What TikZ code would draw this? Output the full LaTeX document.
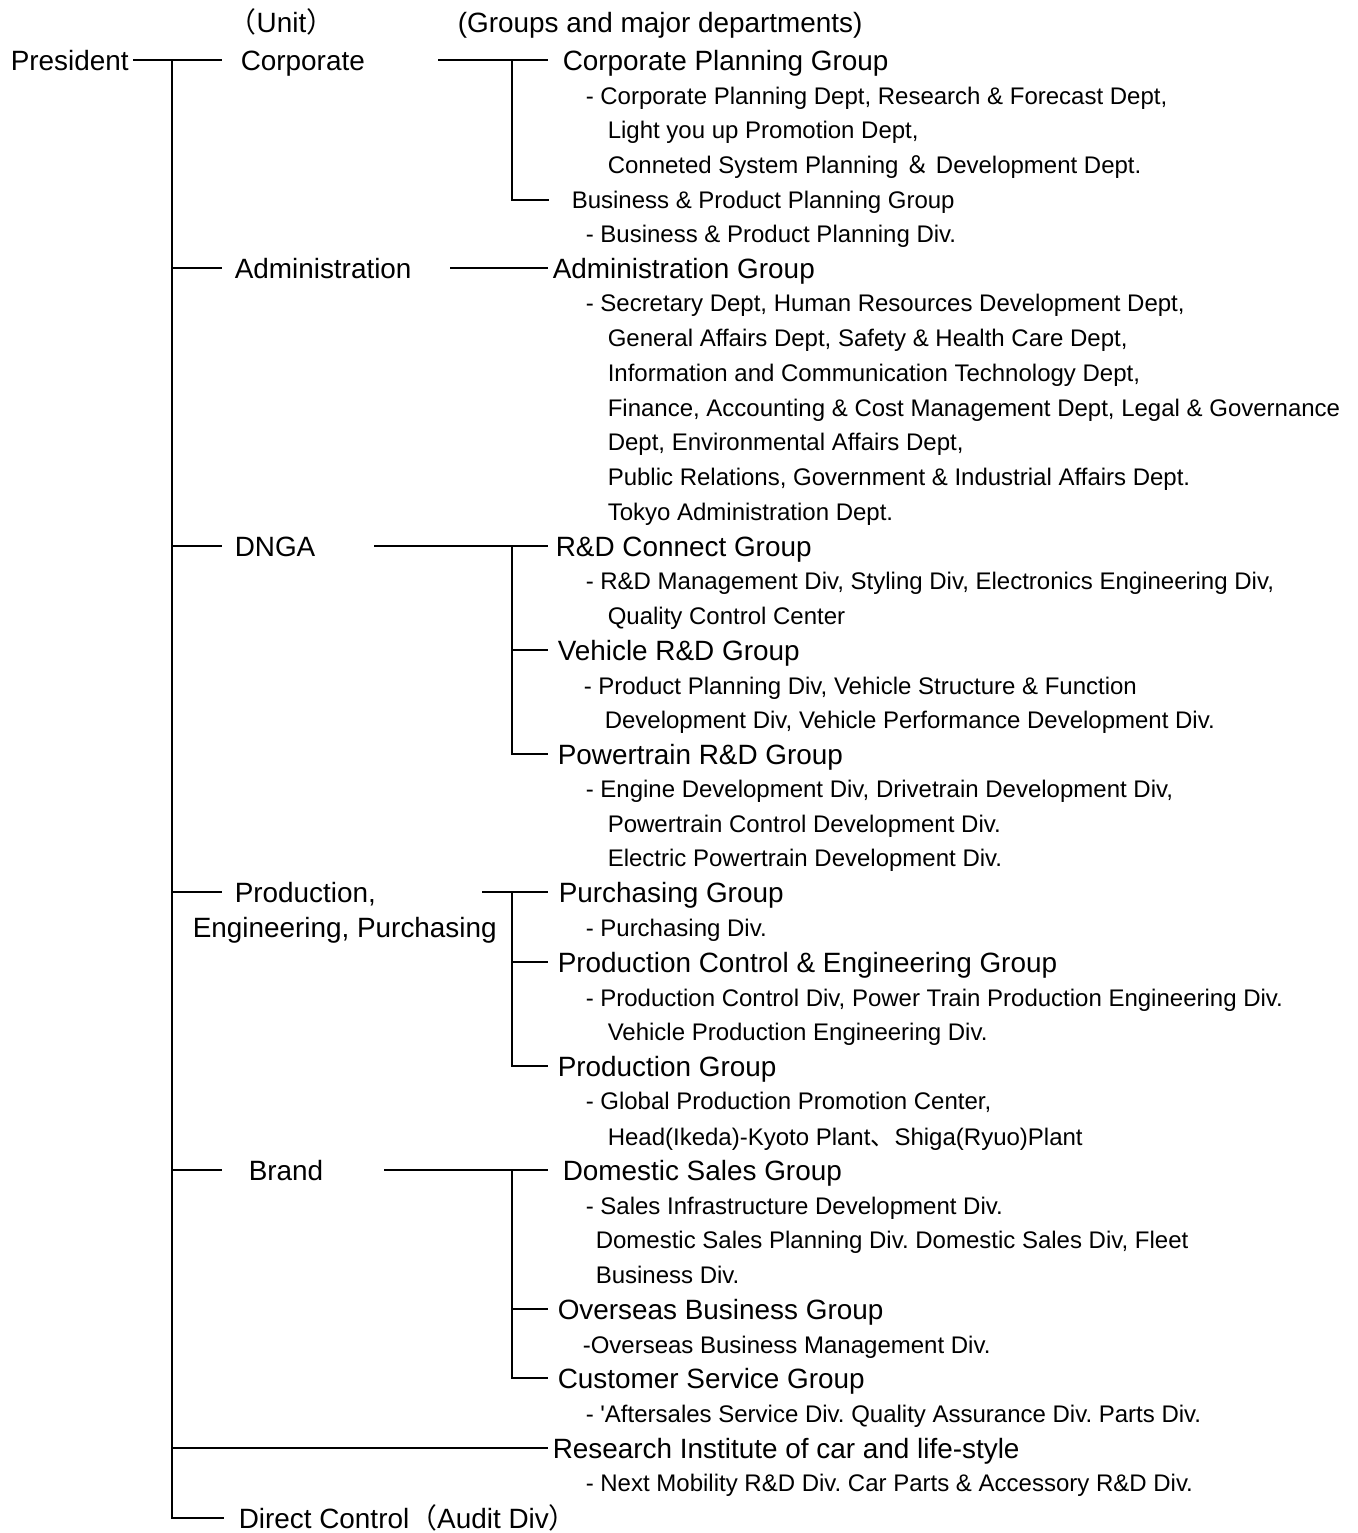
\documentclass[tikz,border=0pt]{standalone}
\usepackage{fontspec}
\setmainfont{Liberation Sans}
\newfontfamily\cjkfont{Noto Sans CJK JP}
\frenchspacing
\begin{document}
\begin{tikzpicture}[x=1pt,y=-1pt,line width=1.5pt]
	\def \trunk{172}
	\def \fork{512}
	\def \rowcorp{60}
	\def \rowadm{268}
	\def \rowdnga{546}
	\def \rowprod{892}
	\def \rowbrand{1170}
	\def \rowlab{1448}
	\def \rowaudit{1518}
	\tikzstyle{unit}=[anchor=west,inner sep=0pt,text height=25.7pt,text depth=5.6pt,font=\fontsize{27.9}{33}\selectfont]
	\tikzstyle{grp}=[unit]
	\tikzstyle{dept}=[anchor=west,inner sep=0pt,text height=22.1pt,text depth=4.8pt,font=\fontsize{24}{29}\selectfont]
	\useasboundingbox (0,0) rectangle (1357,1533);

	% headings
	\node[unit]	(h-unit)	at (228,22)		{{\cjkfont（}Unit{\cjkfont）}};
	\node[unit]	(h-grp)		at (457,22)		{(Groups and major departments)};

	% president and units
	\node[unit]	(pres)		at (10,\rowcorp)	{President};
	\node[unit]	(u-corp)	at (240,\rowcorp)	{Corporate};
	\node[unit]	(u-adm)		at (234,\rowadm)	{Administration};
	\node[unit]	(u-dnga)	at (234,\rowdnga)	{DNGA};
	\node[unit]	(u-prod)	at (234,\rowprod)	{Production,};
	\node[unit]	(u-prod2)	at (192,927)		{Engineering, Purchasing};
	\node[unit]	(u-brand)	at (248,\rowbrand)	{Brand};
	\node[unit]	(u-audit)	at (238,\rowaudit)	{Direct Control{\cjkfont（}Audit Div{\cjkfont）}};

	% groups
	\node[grp]	(g-cpg)		at (562,\rowcorp)	{Corporate Planning Group};
	\node[dept]	(g-bpg)		at (571,200)		{Business \& Product Planning Group};
	\node[grp]	(g-adm)		at (552,\rowadm)	{Administration Group};
	\node[grp]	(g-rdc)		at (555,\rowdnga)	{R\&D Connect Group};
	\node[grp]	(g-veh)		at (557,650)		{Vehicle R\&D Group};
	\node[grp]	(g-pwt)		at (557,754)		{Powertrain R\&D Group};
	\node[grp]	(g-pur)		at (558,\rowprod)	{Purchasing Group};
	\node[grp]	(g-pce)		at (557,962)		{Production Control \& Engineering Group};
	\node[grp]	(g-prd)		at (557,1066)		{Production Group};
	\node[grp]	(g-dom)		at (562,\rowbrand)	{Domestic Sales Group};
	\node[grp]	(g-ovs)		at (557,1309)		{Overseas Business Group};
	\node[grp]	(g-cus)		at (557,1378)		{Customer Service Group};
	\node[grp]	(g-lab)		at (552,\rowlab)	{Research Institute of car and life-style};

	% departments
	\node[dept]	(d-cpg1)	at (585,96)		{- Corporate Planning Dept, Research \& Forecast Dept,};
	\node[dept]	(d-cpg2)	at (607,130)		{Light you up Promotion Dept,};
	\node[dept]	(d-cpg3)	at (607,165)		{Conneted System Planning {\cjkfont ＆} Development Dept.};
	\node[dept]	(d-bpg1)	at (585,234)		{- Business \& Product Planning Div.};
	\node[dept]	(d-adm1)	at (585,303)		{- Secretary Dept, Human Resources Development Dept,};
	\node[dept]	(d-adm2)	at (607,338)		{General Affairs Dept, Safety \& Health Care Dept,};
	\node[dept]	(d-adm3)	at (607,373)		{Information and Communication Technology Dept,};
	\node[dept]	(d-adm4)	at (607,408)		{Finance, Accounting \& Cost Management Dept, Legal \& Governance};
	\node[dept]	(d-adm5)	at (607,442)		{Dept, Environmental Affairs Dept,};
	\node[dept]	(d-adm6)	at (607,477)		{Public Relations, Government \& Industrial Affairs Dept.};
	\node[dept]	(d-adm7)	at (607,512)		{Tokyo Administration Dept.};
	\node[dept]	(d-rdc1)	at (585,581)		{- R\&D Management Div, Styling Div, Electronics Engineering Div,};
	\node[dept]	(d-rdc2)	at (607,616)		{Quality Control Center};
	\node[dept]	(d-veh1)	at (583,686)		{- Product Planning Div, Vehicle Structure \& Function};
	\node[dept]	(d-veh2)	at (604,720)		{Development Div, Vehicle Performance Development Div.};
	\node[dept]	(d-pwt1)	at (585,789)		{- Engine Development Div, Drivetrain Development Div,};
	\node[dept]	(d-pwt2)	at (607,824)		{Powertrain Control Development Div.};
	\node[dept]	(d-pwt3)	at (607,858)		{Electric Powertrain Development Div.};
	\node[dept]	(d-pur1)	at (585,928)		{- Purchasing Div.};
	\node[dept]	(d-pce1)	at (585,998)		{- Production Control Div, Power Train Production Engineering Div.};
	\node[dept]	(d-pce2)	at (607,1032)		{Vehicle Production Engineering Div.};
	\node[dept]	(d-prd1)	at (585,1101)		{- Global Production Promotion Center,};
	\node[dept]	(d-prd2)	at (607,1137)		{Head(Ikeda)-Kyoto Plant{\cjkfont 、}Shiga(Ryuo)Plant};
	\node[dept]	(d-dom1)	at (585,1206)		{- Sales Infrastructure Development Div.};
	\node[dept]	(d-dom2)	at (595,1240)		{Domestic Sales Planning Div. Domestic Sales Div, Fleet};
	\node[dept]	(d-dom3)	at (595,1275)		{Business Div.};
	\node[dept]	(d-ovs1)	at (582,1345)		{-Overseas Business Management Div.};
	\node[dept]	(d-cus1)	at (585,1414)		{- \textquotesingle Aftersales Service Div. Quality Assurance Div. Parts Div.};
	\node[dept]	(d-lab1)	at (585,1483)		{- Next Mobility R\&D Div. Car Parts \& Accessory R\&D Div.};

	% junctions
	\coordinate	(t-corp)	at (\trunk,\rowcorp);
	\coordinate	(t-adm)		at (\trunk,\rowadm);
	\coordinate	(t-dnga)	at (\trunk,\rowdnga);
	\coordinate	(t-prod)	at (\trunk,\rowprod);
	\coordinate	(t-brand)	at (\trunk,\rowbrand);
	\coordinate	(t-lab)		at (\trunk,\rowlab);
	\coordinate	(s-corp)	at (438,\rowcorp);
	\coordinate	(s-adm)		at (450,\rowadm);
	\coordinate	(s-dnga)	at (374,\rowdnga);
	\coordinate	(s-prod)	at (482,\rowprod);
	\coordinate	(s-brand)	at (384,\rowbrand);
	\coordinate	(f-corp)	at (\fork,\rowcorp);
	\coordinate	(f-dnga)	at (\fork,\rowdnga);
	\coordinate	(f-prod)	at (\fork,\rowprod);
	\coordinate	(f-brand)	at (\fork,\rowbrand);

	% president to units
	\draw[shorten <=4pt,shorten >=18pt]	(pres)		-- (u-corp);
	\draw[shorten >=14pt]			(t-corp)	|- (u-audit);
	\path[draw]
		(t-adm)		edge[shorten >=12pt]	(u-adm)
		(t-dnga)	edge[shorten >=12pt]	(u-dnga)
		(t-prod)	edge[shorten >=12pt]	(u-prod)
		(t-brand)	edge[shorten >=26pt]	(u-brand)
		(t-lab)		edge[shorten >=4pt]	(g-lab);

	% units to groups
	\path[draw]
		(s-corp)	edge[shorten >=14pt]	(g-cpg)
		(f-corp)	edge[shorten >=22pt,to path={|- (\tikztotarget)}]	(g-bpg)
		(s-adm)		edge[shorten >=4pt]	(g-adm)
		(s-dnga)	edge[shorten >=7pt]	(g-rdc)
		(f-dnga)	edge[shorten >=9pt,to path={|- (\tikztotarget)}]	(g-veh)
		(f-dnga)	edge[shorten >=9pt,to path={|- (\tikztotarget)}]	(g-pwt)
		(s-prod)	edge[shorten >=10pt]	(g-pur)
		(f-prod)	edge[shorten >=9pt,to path={|- (\tikztotarget)}]	(g-pce)
		(f-prod)	edge[shorten >=9pt,to path={|- (\tikztotarget)}]	(g-prd)
		(s-brand)	edge[shorten >=14pt]	(g-dom)
		(f-brand)	edge[shorten >=9pt,to path={|- (\tikztotarget)}]	(g-ovs)
		(f-brand)	edge[shorten >=9pt,to path={|- (\tikztotarget)}]	(g-cus);
\end{tikzpicture}
\end{document}
